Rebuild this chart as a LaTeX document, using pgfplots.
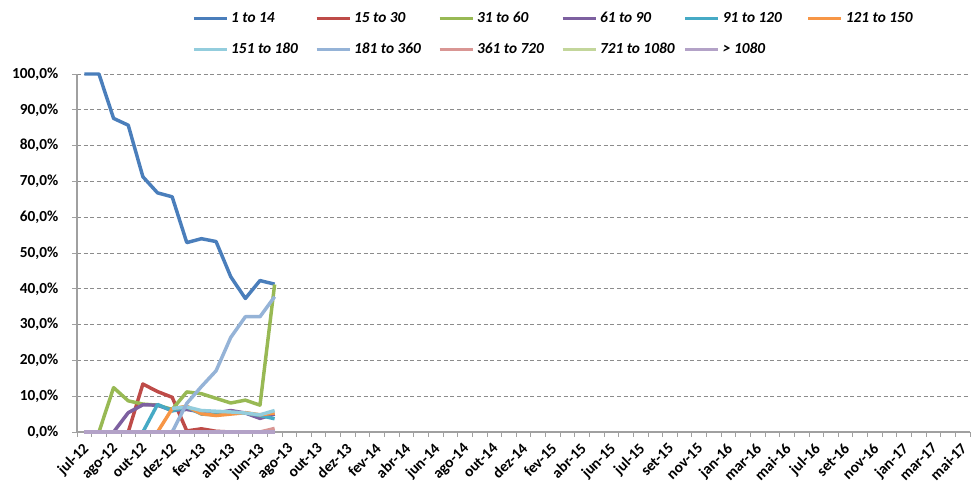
\documentclass[border=0pt]{standalone}
\usepackage{pgfplots}
\pgfplotsset{compat=1.18}
\usepackage{pgfplotstable}
\usepackage{fontspec}
\setmainfont{Carlito}
\definecolor{s1}{HTML}{4A7EBB}
\definecolor{s2}{HTML}{BE4B48}
\definecolor{s3}{HTML}{98B954}
\definecolor{s4}{HTML}{7D60A0}
\definecolor{s5}{HTML}{46AAC5}
\definecolor{s6}{HTML}{F79646}
\definecolor{s7}{HTML}{93CDDD}
\definecolor{s8}{HTML}{95B3D7}
\definecolor{s9}{HTML}{D99694}
\definecolor{s10}{HTML}{C3D69B}
\definecolor{s11}{HTML}{B3A2C7}
\definecolor{axgray}{HTML}{A0A0A0}
\definecolor{gridgray}{HTML}{8C8C8C}
\pgfplotstableread{
x  a     b     c     d    e    f    g    h    i    j  k
0  100   0     0     0    0    0    nan  0    0    0  0
1  100   0     0     0    0    0    nan  0    0    0  0
2  87.6  0     12.4  0    0    0    nan  0    0    0  0
3  85.7  0     8.7   5.4  0    0    nan  0    0    0  0
4  71.3  13.4  7.8   7.6  0    0    nan  0    0    0  0
5  66.8  11.3  7.5   7.5  7.7  0    nan  0    0    0  0
6  65.7  9.7   6.3   6.0  5.9  6.5  6.6  0    0    0  0
7  52.9  0.3   11.2  6.3  7.0  7.2  7.0  8.0  0    0  0
8  54.0  0.9   10.7  5.6  5.0  5.1  6.0  12.7 0    0  0
9  53.2  0.2   9.4   5.3  4.8  4.6  5.8  17.1 0    0  0
10 43.4  0     8.1   6.0  5.4  5.0  5.6  26.4 0    0  0
11 37.3  0     8.9   5.3  5.3  5.4  5.3  32.2 0    0  0
12 42.3  0     7.5   3.8  4.6  4.8  4.8  32.2 0    0  0
13 41.3  0     41.2  5.0  3.7  5.3  6.0  37.8 1.0  0  0
}\datatable
\begin{document}
\begin{tikzpicture}
\path[use as bounding box] (0pt,0pt) rectangle (728.25pt,365.25pt);
\begin{axis}[
  at={(57.75pt,41.25pt)}, anchor=south west,
  scale only axis, width=669.75pt, height=268.5pt,
  xmin=-0.5, xmax=60.5, ymin=0, ymax=100,
  axis x line*=bottom, axis y line*=left,
  x axis line style={draw=axgray, line width=1.5pt, -},
  y axis line style={draw=axgray, line width=0.8pt, -},
  tick align=outside,
  xtick={0,2,...,60},
  xticklabels={jul-12,ago-12,out-12,dez-12,fev-13,abr-13,jun-13,ago-13,out-13,dez-13,fev-14,abr-14,jun-14,ago-14,out-14,dez-14,fev-15,abr-15,jun-15,jul-15,set-15,nov-15,jan-16,mar-16,mai-16,jul-16,set-16,nov-16,jan-17,mar-17,mai-17},
  major x tick style={draw=none},
  minor xtick={-0.5,0.5,...,60.5},
  minor x tick style={draw=axgray, line width=0.6pt},
  minor tick length=3.5pt,
  ytick={0,10,...,100},
  yticklabels={{0,0\%},{10,0\%},{20,0\%},{30,0\%},{40,0\%},{50,0\%},{60,0\%},{70,0\%},{80,0\%},{90,0\%},{100,0\%}},
  major y tick style={draw=axgray, line width=0.6pt},
  major tick length=3.5pt,
  ymajorgrids,
  grid style={draw=gridgray, line width=0.6pt, dash pattern=on 3pt off 2pt},
  /pgf/number format/assume math mode=true,
  ticklabel style={font=\fontsize{11.5}{13}\selectfont\bfseries},
  xticklabel style={xshift=-2pt, yshift=-2.5pt, rotate=45, anchor=north east, inner sep=1pt},
  yticklabel style={xshift=-7pt},
  legend style={at={(0.1288,1.175)}, anchor=north west, draw=none, fill=none,
    inner xsep=0pt, inner ysep=0pt,
    nodes={inner sep=0pt, text height=8.5pt, text depth=2pt, font=\fontsize{11.5}{13}\selectfont\bfseries\itshape},
    legend columns=6, row sep=12.5pt,
    /tikz/every odd column/.append style={column sep=2.25pt},
    /tikz/every even column/.append style={column sep=0pt}},
  legend cell align=left,
  legend image code/.code={\draw[#1, line width=2.2pt] (0pt,0pt) -- (24.75pt,0pt);},
  every axis plot/.append style={line width=2.6pt, line join=round, mark=none},
  clip=false,
]
\addplot[s1] table[x=x,y=a]{\datatable}; \addlegendentry{\makebox[63pt][l]{1 to 14}}
\addplot[s2] table[x=x,y=b]{\datatable}; \addlegendentry{\makebox[63pt][l]{15 to 30}}
\addplot[s3] table[x=x,y=c]{\datatable}; \addlegendentry{\makebox[63pt][l]{31 to 60}}
\addplot[s4] table[x=x,y=d]{\datatable}; \addlegendentry{\makebox[63pt][l]{61 to 90}}
\addplot[s5] table[x=x,y=e]{\datatable}; \addlegendentry{\makebox[63pt][l]{91 to 120}}
\addplot[s6] table[x=x,y=f]{\datatable}; \addlegendentry{\makebox[63pt][l]{121 to 150}}
\addplot[s7] table[x=x,y=g]{\datatable}; \addlegendentry{\makebox[63pt][l]{151 to 180}}
\addplot[s8] table[x=x,y=h]{\datatable}; \addlegendentry{\makebox[63pt][l]{181 to 360}}
\addplot[s9] table[x=x,y=i]{\datatable}; \addlegendentry{\makebox[63pt][l]{361 to 720}}
\addplot[s10] table[x=x,y=j]{\datatable}; \addlegendentry{\makebox[63pt][l]{721 to 1080}}
\addplot[s11] table[x=x,y=k]{\datatable}; \addlegendentry{\makebox[63pt][l]{> 1080}}
\end{axis}
\end{tikzpicture}
\end{document}
